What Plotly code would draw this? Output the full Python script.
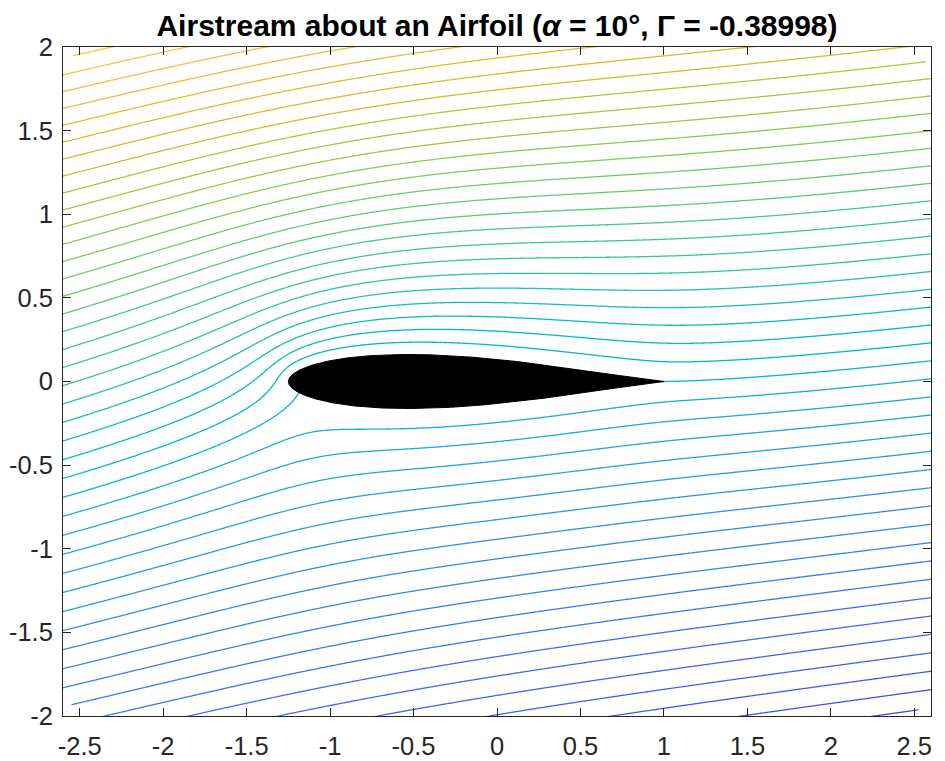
import numpy as np
import plotly.graph_objects as go

# ---- flow / geometry parameters ----
alpha_deg = 10.0          # angle of attack
U_inf = 1.0               # free-stream speed
kt_exponent = 1.94        # Karman-Trefftz exponent (trailing-edge angle)
lam = 0.5753              # mapping constant
eps = 0.09                # relative thickness parameter
x_shift = -0.116          # horizontal placement of the airfoil
r_outer = 3.2             # outer radius of the computational circle
edge_a, edge_b = 3.28, 3.08   # semi-axes of the outer edge of the computed field
psi_step = 0.105          # spacing of the streamline levels

x_range = [-2.6, 2.6]
y_range = [-2.0, 2.0]
x_ticks = [-2.5, -2, -1.5, -1, -0.5, 0, 0.5, 1, 1.5, 2, 2.5]
x_tick_text = ["-2.5", "-2", "-1.5", "-1", "-0.5", "0", "0.5", "1", "1.5", "2", "2.5"]
y_ticks = [-2, -1.5, -1, -0.5, 0, 0.5, 1, 1.5, 2]
y_tick_text = ["-2", "-1.5", "-1", "-0.5", "0", "0.5", "1", "1.5", "2"]

# parula colormap (64 entries)
parula_rgb = [
    (0.2422, 0.1504, 0.6603), (0.2504, 0.1650, 0.7076), (0.2578, 0.1818, 0.7511),
    (0.2647, 0.1978, 0.7952), (0.2706, 0.2147, 0.8364), (0.2751, 0.2342, 0.8710),
    (0.2783, 0.2559, 0.8991), (0.2803, 0.2782, 0.9221), (0.2813, 0.3006, 0.9414),
    (0.2810, 0.3228, 0.9579), (0.2795, 0.3447, 0.9717), (0.2760, 0.3667, 0.9829),
    (0.2699, 0.3892, 0.9906), (0.2602, 0.4123, 0.9952), (0.2440, 0.4358, 0.9988),
    (0.2206, 0.4603, 0.9973), (0.1963, 0.4847, 0.9892), (0.1834, 0.5074, 0.9798),
    (0.1786, 0.5289, 0.9682), (0.1764, 0.5499, 0.9520), (0.1687, 0.5703, 0.9359),
    (0.1540, 0.5902, 0.9218), (0.1460, 0.6091, 0.9079), (0.1380, 0.6276, 0.8973),
    (0.1248, 0.6459, 0.8883), (0.1113, 0.6635, 0.8763), (0.0952, 0.6798, 0.8598),
    (0.0689, 0.6948, 0.8394), (0.0297, 0.7082, 0.8163), (0.0036, 0.7203, 0.7917),
    (0.0067, 0.7312, 0.7660), (0.0433, 0.7411, 0.7394), (0.0964, 0.7500, 0.7120),
    (0.1408, 0.7584, 0.6842), (0.1717, 0.7670, 0.6554), (0.1938, 0.7758, 0.6251),
    (0.2161, 0.7843, 0.5923), (0.2470, 0.7918, 0.5567), (0.2906, 0.7973, 0.5188),
    (0.3406, 0.8008, 0.4789), (0.3909, 0.8029, 0.4354), (0.4456, 0.8024, 0.3909),
    (0.5044, 0.7993, 0.3480), (0.5616, 0.7942, 0.3045), (0.6174, 0.7876, 0.2612),
    (0.6720, 0.7793, 0.2227), (0.7242, 0.7698, 0.1910), (0.7738, 0.7598, 0.1646),
    (0.8203, 0.7498, 0.1535), (0.8634, 0.7406, 0.1596), (0.9035, 0.7330, 0.1774),
    (0.9393, 0.7288, 0.2100), (0.9728, 0.7298, 0.2394), (0.9956, 0.7434, 0.2371),
    (0.9970, 0.7659, 0.2199), (0.9952, 0.7893, 0.2028), (0.9892, 0.8136, 0.1885),
    (0.9786, 0.8386, 0.1766), (0.9676, 0.8639, 0.1643), (0.9610, 0.8890, 0.1537),
    (0.9597, 0.9135, 0.1423), (0.9628, 0.9373, 0.1265), (0.9691, 0.9606, 0.1064),
    (0.9769, 0.9839, 0.0805)]

# ---- potential flow about a circle mapped to the airfoil ----
alpha = np.deg2rad(alpha_deg)
m = eps * lam
zc = complex(-m, 0.0)
R = lam + m
gam = 4 * np.pi * U_inf * R * np.sin(alpha)   # Kutta condition
n = kt_exponent


def to_z(zeta):
    w = ((zeta - lam) / (zeta + lam)) ** n
    return n * lam * (1 + w) / (1 - w) + x_shift


def to_zeta(z):
    zz = z - x_shift
    w = (zz - n * lam) / (zz + n * lam)
    q = w ** (1.0 / n)
    return lam * (1 + q) / (1 - q)


def psi_of(zeta):
    d = zeta - zc
    W = U_inf * (d * np.exp(-1j * alpha) + R ** 2 * np.exp(1j * alpha) / d) \
        + 1j * gam / (2 * np.pi) * np.log(d)
    return W.imag


psi_body = gam / (2 * np.pi) * np.log(R)

# colour range = range of the data on the computational annulus
rr, tt = np.meshgrid(np.linspace(R, r_outer, 240), np.linspace(0, 2 * np.pi, 721))
psi_ann = psi_of(zc + rr * np.exp(1j * tt)) - psi_body
dmin, dmax = float(psi_ann.min()), float(psi_ann.max())

gx = np.linspace(-2.66, 2.66, 666)
gy = np.linspace(-2.06, 2.06, 516)
XX, YY = np.meshgrid(gx, gy)
with np.errstate(all="ignore"):
    ZETA = to_zeta(XX + 1j * YY)
    rad = np.abs(ZETA - zc)
    PSI = psi_of(ZETA) - psi_body
outside = (XX / edge_a) ** 2 + (YY / edge_b) ** 2 > 1.0
PSI[(rad < R) | outside | ~np.isfinite(PSI)] = np.nan
z_list = np.where(np.isnan(PSI), None, np.round(PSI, 5)).tolist()

k_lo = int(np.ceil(dmin / psi_step))
k_hi = int(np.floor(dmax / psi_step))
lev_start, lev_end = k_lo * psi_step, k_hi * psi_step

par_pos = np.linspace(0, 1, len(parula_rgb))


def parula(f):
    f = min(max(f, 0.0), 1.0)
    r = np.interp(f, par_pos, [c[0] for c in parula_rgb])
    g = np.interp(f, par_pos, [c[1] for c in parula_rgb])
    b = np.interp(f, par_pos, [c[2] for c in parula_rgb])
    return "rgb(%d,%d,%d)" % (round(r * 255), round(g * 255), round(b * 255))


cscale = []
for t in np.linspace(0, 1, 81):
    v = lev_start + t * (lev_end - lev_start)
    cscale.append([float(t), parula((v - dmin) / (dmax - dmin))])

th = np.linspace(0, 2 * np.pi, 1441)
zb = to_z(zc + R * np.exp(1j * th))

fig = go.Figure()
fig.add_trace(go.Contour(
    x=gx, y=gy, z=z_list,
    contours=dict(coloring="lines", start=lev_start, end=lev_end + psi_step * 1e-3,
                  size=psi_step),
    line=dict(width=1.3),
    colorscale=cscale, showscale=False, hoverinfo="skip",
))
fig.add_trace(go.Scatter(
    x=zb.real, y=zb.imag, mode="lines", fill="toself",
    fillcolor="black", line=dict(color="black", width=1),
    hoverinfo="skip", showlegend=False,
))

axis_common = dict(
    showgrid=False, zeroline=False, showline=True, linecolor="#262626", linewidth=1,
    mirror="ticks", ticks="inside", ticklen=8, tickwidth=1, tickcolor="#262626",
    automargin=False,
    tickfont=dict(family="Liberation Sans, Arial, sans-serif", size=25.5, color="#262626"),
)
fig.update_xaxes(range=x_range, tickvals=x_ticks, ticktext=x_tick_text,
                 ticklabelstandoff=7, **axis_common)
fig.update_yaxes(range=y_range, tickvals=y_ticks, ticktext=y_tick_text,
                 ticklabelstandoff=4, **axis_common)

# the page body adds an 8 px offset, so the figure is 8 px smaller than the window
fig_w, fig_h = 937, 753
fig.update_layout(
    width=fig_w, height=fig_h,
    margin=dict(l=55, r=14, t=39, b=45, autoexpand=False),
    paper_bgcolor="white", plot_bgcolor="white",
    showlegend=False,
    title=dict(
        text="<b>Airstream about an Airfoil (<i>α</i> = 10°, Γ = -0.38998)</b>",
        x=0.5, xref="paper", xanchor="center",
        y=1 - 17 / fig_h, yref="container", yanchor="middle",
        font=dict(family="Liberation Sans, Arial, sans-serif", size=30, color="black"),
    ),
)

fig.write_html("out.html")
